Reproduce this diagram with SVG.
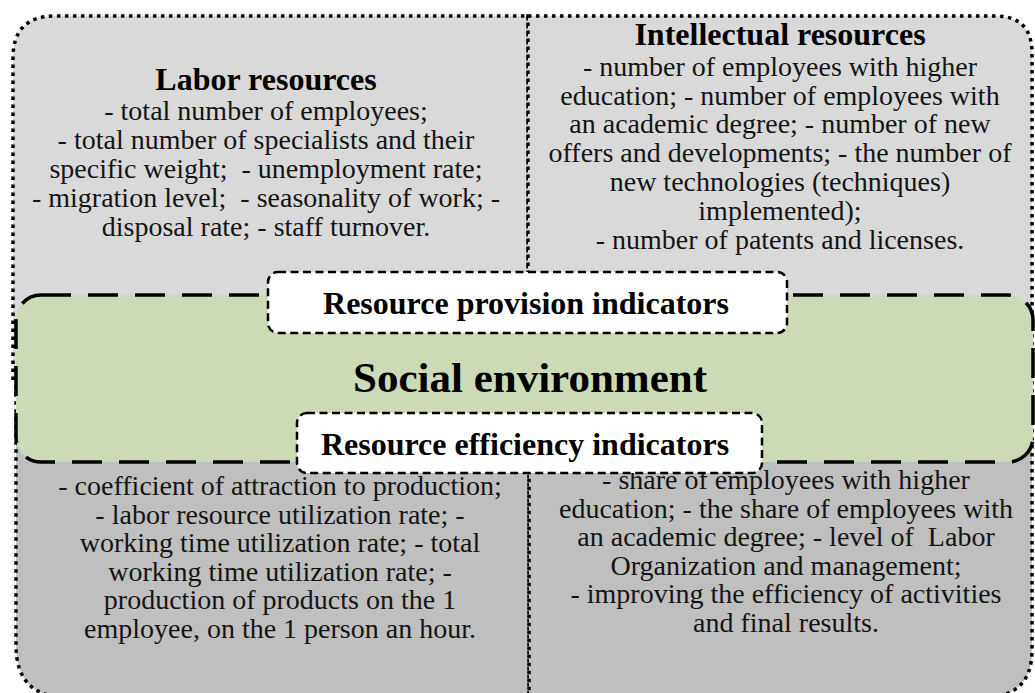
<svg xmlns="http://www.w3.org/2000/svg" width="1035" height="693" viewBox="0 0 1035 693">
<style>
.quad{stroke:#000;stroke-width:3.5;stroke-dasharray:3.5 4.5}
.light{fill:#d9d9d9}
.dark{fill:#bfbfbf}
.green{fill:#ccdab5;stroke:#000;stroke-width:3.5;stroke-dasharray:30 17}
.tag{fill:#fff;stroke:#000;stroke-width:2.5;stroke-dasharray:8 4.5}
text{font-family:"Liberation Serif","Times New Roman",serif;text-anchor:middle;fill:#141414}
.body{font-size:28px}
.title{font-size:32px;font-weight:bold;fill:#000}
.big{font-size:43px;font-weight:bold;fill:#000}
.pre{white-space:pre}
</style>
<rect width="1035" height="693" fill="#fff"/>
<g id="labor-resources">
<path class="quad light" d="M13,380 L13,58 Q13,16 55,16 L528,16 L528,380 Z"/>
<text class="title" x="266" y="90">Labor resources</text>
<text class="body" x="266" y="120">- total number of employees;</text>
<text class="body" x="266" y="149">- total number of specialists and their</text>
<text class="body pre" x="266" y="178">specific weight;  - unemployment rate;</text>
<text class="body pre" x="266" y="207">- migration level;  - seasonality of work; -</text>
<text class="body" x="266" y="236">disposal rate; - staff turnover.</text>
</g>
<g id="intellectual-resources">
<path class="quad light" d="M528,16 L995,16 Q1032,16 1032,53 L1032,380 L528,380 Z"/>
<text class="title" x="780" y="45">Intellectual resources</text>
<text class="body" x="780" y="76">- number of employees with higher</text>
<text class="body" x="780" y="105">education; - number of employees with</text>
<text class="body" x="780" y="133">an academic degree; - number of new</text>
<text class="body" x="780" y="162">offers and developments; - the number of</text>
<text class="body" x="780" y="191">new technologies (techniques)</text>
<text class="body" x="780" y="220">implemented);</text>
<text class="body" x="780" y="249">- number of patents and licenses.</text>
</g>
<g id="labor-efficiency">
<path class="quad dark" d="M16,380 L529,380 L529,697 L66,697 Q16,697 16,645 Z"/>
<text class="body" x="280" y="495">- coefficient of attraction to production;</text>
<text class="body" x="280" y="523.5">- labor resource utilization rate; -</text>
<text class="body" x="280" y="552">working time utilization rate; - total</text>
<text class="body" x="280" y="580.5">working time utilization rate; -</text>
<text class="body" x="280" y="609">production of products on the 1</text>
<text class="body" x="280" y="637.5">employee, on the 1 person an hour.</text>
</g>
<g id="intellectual-efficiency">
<path class="quad dark" d="M529,380 L1032,380 L1032,650 Q1032,697 985,697 L529,697 Z"/>
<text class="body" x="786" y="489">- share of employees with higher</text>
<text class="body" x="786" y="517.5">education; - the share of employees with</text>
<text class="body pre" x="786" y="546">an academic degree; - level of  Labor</text>
<text class="body" x="786" y="574.5">Organization and management;</text>
<text class="body" x="786" y="603">- improving the efficiency of activities</text>
<text class="body" x="786" y="631.5">and final results.</text>
</g>
<g id="social-environment">
<rect class="green" x="16" y="295" width="1017" height="167" rx="25" ry="25"/>
<text class="big" x="530" y="392">Social environment</text>
</g>
<g id="resource-provision">
<rect class="tag" x="268" y="272" width="519" height="61" rx="10" ry="10"/>
<text class="title" x="526" y="314">Resource provision indicators</text>
</g>
<g id="resource-efficiency">
<rect class="tag" x="297" y="413" width="465" height="60" rx="10" ry="10"/>
<text class="title" x="525" y="455">Resource efficiency indicators</text>
</g>
<g id="connectors"></g>
</svg>
